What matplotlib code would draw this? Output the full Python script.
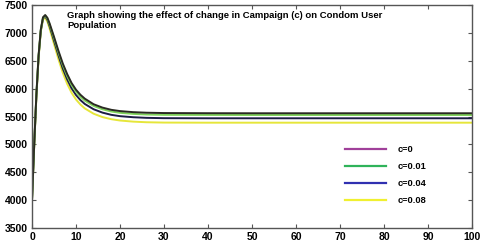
import matplotlib
matplotlib.use("Agg")
import matplotlib.pyplot as plt
from matplotlib.lines import Line2D

plt.rcParams['font.family'] = ['Liberation Sans', 'DejaVu Sans']

t = [0, 0.5, 1, 1.5, 2, 2.5, 3, 3.5, 4, 5, 6, 7, 8, 9, 10, 11, 12, 14, 16, 18, 20, 23, 26, 30, 40, 50, 60, 70, 80, 90, 100]

c0 = [4000, 5000, 5900, 6600, 7060, 7280, 7320, 7270, 7170, 6930, 6680, 6450, 6260, 6100, 5980, 5890, 5820, 5720, 5660, 5620, 5597, 5578, 5568, 5562, 5559, 5558, 5558, 5558, 5558, 5558, 5558]
c001 = [4000, 5000, 5890, 6590, 7050, 7270, 7310, 7255, 7150, 6905, 6650, 6420, 6225, 6065, 5945, 5855, 5785, 5690, 5630, 5590, 5566, 5547, 5536, 5530, 5528, 5527, 5527, 5527, 5527, 5527, 5527]
c004 = [4000, 4990, 5880, 6580, 7040, 7260, 7295, 7235, 7120, 6860, 6600, 6360, 6165, 6005, 5885, 5795, 5725, 5630, 5570, 5530, 5506, 5487, 5476, 5470, 5468, 5468, 5468, 5468, 5468, 5468, 5468]
c008 = [4000, 4980, 5860, 6560, 7020, 7240, 7270, 7200, 7075, 6800, 6530, 6285, 6085, 5925, 5805, 5715, 5645, 5550, 5490, 5452, 5428, 5408, 5397, 5391, 5389, 5389, 5389, 5389, 5389, 5389, 5389]

labels = ["c=0", "c=0.01", "c=0.04", "c=0.08"]
curve_colors = ["#2a2a22", "#7fd35a", "#1c1c44", "#e6e63a"]
legend_colors = ["#a0409a", "#2fb35a", "#3030b0", "#f0f030"]

yticks = [3500, 4000, 4500, 5000, 5500, 6000, 6500, 7000, 7500]
xticks = [0, 10, 20, 30, 40, 50, 60, 70, 80, 90, 100]

fig = plt.figure(figsize=(4.8, 2.45), dpi=100)
ax = fig.add_axes([32/480, 1-228/245, 440/480, 223/245])

series = [c0, c001, c004, c008]
for s, col in reversed(list(zip(series, curve_colors))):
    ax.plot(t, s, color=col, lw=1.4)

ax.set_xlim(0, 100)
ax.set_ylim(3500, 7500)
ax.set_xticks(xticks)
ax.set_yticks(yticks)
ax.tick_params(direction="in", length=3, width=0.8, top=True, right=True,
               labelsize=7.5, color="#555555", pad=3)
for lab in ax.get_xticklabels() + ax.get_yticklabels():
    lab.set_fontweight("bold")
for sp in ax.spines.values():
    sp.set_color("#555555")
    sp.set_linewidth(1.0)

ax.text(0.08, 0.975, "Graph showing the effect of change in Campaign (c) on Condom User\nPopulation",
        transform=ax.transAxes, ha="left", va="top", fontsize=6.8, fontweight="bold",
        linespacing=1.15)

handles = [Line2D([], [], color=c, lw=1.6) for c in legend_colors]
leg = ax.legend(handles, labels, loc="lower right", bbox_to_anchor=(0.915, 0.065),
                frameon=False, fontsize=6.7, handlelength=4.4, labelspacing=0.85,
                handletextpad=1.2)
for txt in leg.get_texts():
    txt.set_fontweight("bold")

fig.savefig("out.png", dpi=100)
